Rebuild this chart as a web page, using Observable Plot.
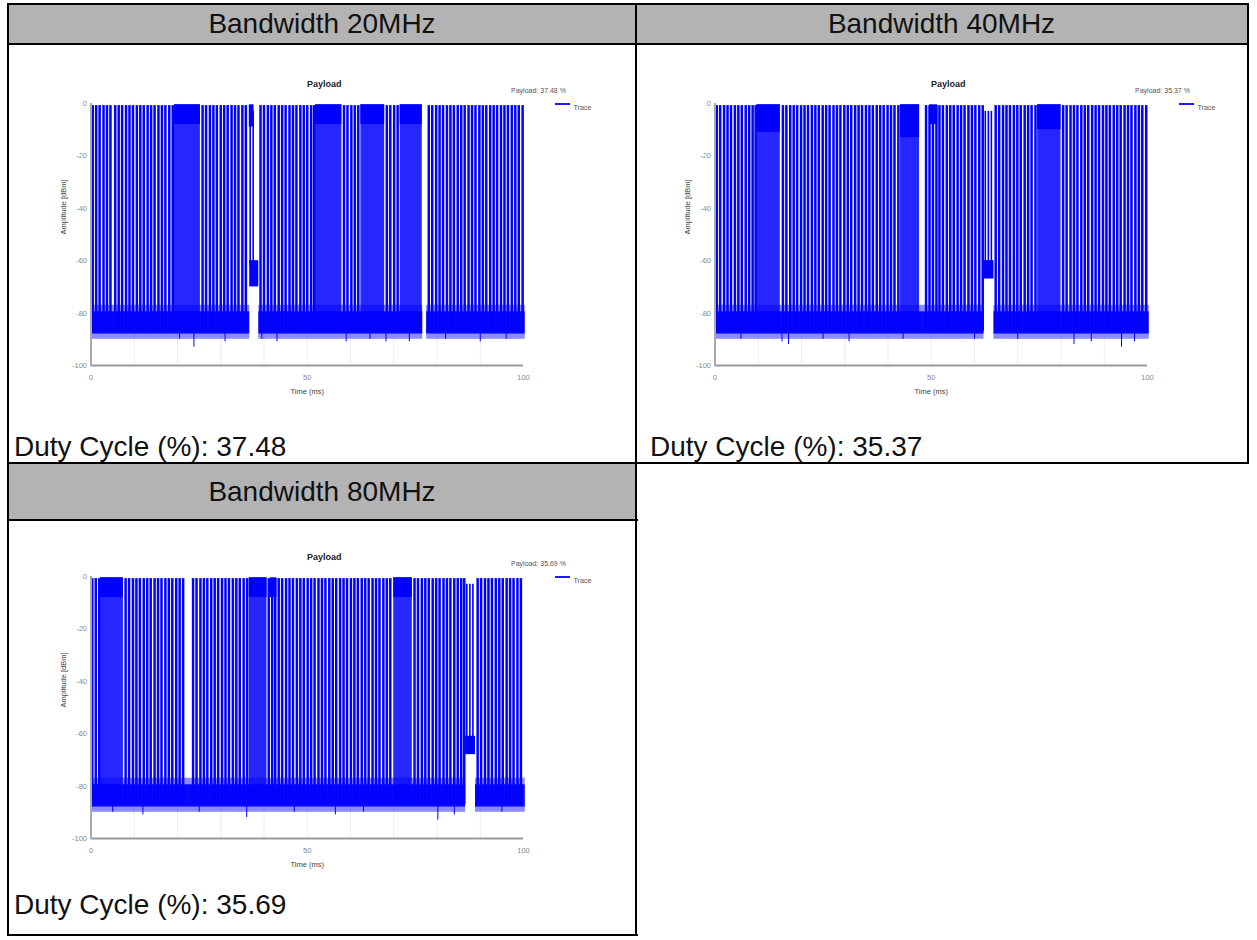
<!DOCTYPE html>
<html><head><meta charset="utf-8">
<script src="https://cdn.jsdelivr.net/npm/d3@7"></script>
<script src="https://cdn.jsdelivr.net/npm/@observablehq/plot@0.6"></script>
<style>
body{margin:0;background:#fff;font-family:"Liberation Sans",Arial,sans-serif;}
#page{position:relative;width:1257px;height:940px;overflow:hidden;background:#fff;}
.hdr{position:absolute;background:#b3b3b3;display:flex;align-items:center;justify-content:center;font-size:28px;color:#111;}
.hl{position:absolute;height:2px;background:#000;}
.vl{position:absolute;width:2px;background:#000;}
.duty{position:absolute;font-size:28px;line-height:28px;color:#111;white-space:nowrap;}
.chart{position:absolute;}
</style></head>
<body><div id="page"></div>
<script>
// ---------- data ----------
const titles = ["Bandwidth 20MHz", "Bandwidth 40MHz", "Bandwidth 80MHz"];
const dutyCycles = ["37.48", "35.37", "35.69"];
const yTicks = [0, -20, -40, -60, -80, -100];
const xTicks = [0, 50, 100];
const gridX = [10, 20, 30, 40, 50, 60, 70, 80, 90];

// Bandwidth 20MHz
const spikes20 = [0.4,1.2,2.0,2.9,3.7,4.5,5.6,6.4,7.2,8.1,8.9,9.7,10.6,11.4,12.2,13.1,13.9,14.7,15.6,16.4,17.2,18.1,18.9,
  25.8,26.6,27.5,28.3,29.1,30.0,30.8,31.6,32.5,33.3,34.1,35.0,35.8,
  39.2,40.0,40.9,41.7,42.5,43.4,44.2,45.0,45.9,46.7,47.5,48.4,49.2,50.0,50.9,51.6,
  58.5,59.3,60.2,61.0,61.8,
  68.4,69.2,70.1,70.9,
  78.1,78.9,79.8,80.6,81.4,82.3,83.1,83.9,84.8,85.6,86.4,87.3,88.1,88.9,89.8,90.6,91.4,92.3,93.1,93.9,94.8,95.6,96.4,97.3,98.1,98.9,99.8];
const blocks20 = [[19.3,25.3,-8],[51.9,58.0,-8],[62.4,67.9,-8],[71.5,76.6,-8]];
const caps20 = [[36.6,37.7,-9]];
const floor20 = [[0,36.7],[38.8,76.7],[77.6,100.4]];
const plateau20 = [[36.7,38.8,-70,-60]];
const plateauSpikes20 = [36.8, 37.5];
const dips20 = [[20.5,-90],[23.8,-93],[31.0,-91],[39.5,-90],[43.0,-91],[59.0,-91],[64.5,-90],[68.2,-91],[73.6,-91],[82.0,-90],[90.0,-91],[96.0,-90]];

// Bandwidth 40MHz
const spikes40 = [0.4,1.2,2.1,2.9,3.7,4.6,5.4,6.2,7.1,7.9,8.7,9.4,
  15.7,16.5,17.4,18.2,19.0,19.9,20.7,21.5,22.4,23.2,24.0,24.9,25.7,26.5,27.4,28.2,29.0,29.9,30.7,31.5,32.4,33.2,34.0,34.9,35.7,36.5,37.4,38.2,39.0,39.9,40.7,41.5,42.4,
  48.8,49.6,50.4,51.2,51.9,52.7,53.6,54.4,55.2,56.1,56.9,57.7,58.6,59.4,60.2,61.1,61.9,
  64.9,65.7,66.6,67.4,68.2,69.1,69.9,70.7,71.6,72.4,73.2,74.1,
  80.5,81.3,82.2,83.0,83.8,84.7,85.5,86.3,87.2,88.0,88.8,89.7,90.5,91.3,92.2,93.0,93.8,94.7,95.5,96.3,97.2,98.0,98.8,99.7];
const blocks40 = [[9.7,15.1,-11],[42.9,47.3,-13],[74.6,80.0,-10]];
const caps40 = [[49.6,51.5,-8]];
const floor40 = [[0,62.2],[64.5,100.4]];
const plateau40 = [[62.2,64.5,-67,-60]];
const plateauSpikes40 = [62.5, 63.2, 63.9];
const dips40 = [[6.0,-90],[15.5,-91],[17.0,-92],[25.0,-90],[31.0,-91],[43.5,-90],[60.0,-90],[70.0,-90],[83.0,-92],[87.0,-91],[94.0,-93],[97.0,-91]];

// Bandwidth 80MHz
const spikes80 = [0.3,1.1,1.9,
  8.0,8.8,9.7,10.5,11.3,12.2,13.0,13.8,14.7,15.5,16.3,17.2,18.0,18.8,19.7,20.5,21.3,
  23.6,24.4,25.3,26.1,26.9,27.8,28.6,29.4,30.3,31.1,31.9,32.8,33.6,34.4,35.3,36.1,
  41.1,41.9,42.6,43.4,44.2,45.1,45.9,46.7,47.6,48.4,49.2,50.1,50.9,51.7,52.6,53.4,54.2,55.1,55.9,56.7,57.6,58.4,59.2,60.1,60.9,61.7,62.6,63.4,64.2,65.1,65.9,66.7,67.6,68.4,69.2,
  74.8,75.6,76.5,77.3,78.1,79.0,79.8,80.6,81.5,82.3,83.1,84.0,84.8,85.6,86.3,
  89.4,90.2,91.1,91.9,92.7,93.6,94.4,95.2,96.1,96.9,97.7,98.6,99.4];
const blocks80 = [[2.2,7.5,-8],[36.6,40.7,-8],[70.0,74.3,-8]];
const caps80 = [[41.5,43.0,-8]];
const floor80 = [[0,86.6],[88.9,100.4]];
const plateau80 = [[86.6,88.9,-68,-61]];
const plateauSpikes80 = [86.9, 87.6, 88.3];
const dips80 = [[5.0,-90],[12.0,-91],[25.0,-90],[36.0,-92],[47.0,-90],[56.5,-91],[63.0,-90],[80.2,-93],[84.0,-91],[95.0,-90]];

const series = [
  {spikes: spikes20, blocks: blocks20, caps: caps20, floor: floor20, plateau: plateau20, pspikes: plateauSpikes20, dips: dips20},
  {spikes: spikes40, blocks: blocks40, caps: caps40, floor: floor40, plateau: plateau40, pspikes: plateauSpikes40, dips: dips40},
  {spikes: spikes80, blocks: blocks80, caps: caps80, floor: floor80, plateau: plateau80, pspikes: plateauSpikes80, dips: dips80}
];

// ---------- layout ----------
const page = document.getElementById("page");
function el(cls, style, text) {
  const d = document.createElement("div");
  d.className = cls;
  Object.assign(d.style, style);
  if (text) d.textContent = text;
  page.appendChild(d);
  return d;
}
el("hdr", {left:"8px", top:"4px", width:"628px", height:"40px"}, titles[0]);
el("hdr", {left:"636px", top:"4px", width:"611px", height:"40px"}, titles[1]);
el("hdr", {left:"8px", top:"463px", width:"628px", height:"57px"}, titles[2]);
el("hl", {left:"7px", top:"3px", width:"1242px"});
el("hl", {left:"7px", top:"43px", width:"1242px"});
el("hl", {left:"7px", top:"462px", width:"1242px"});
el("hl", {left:"7px", top:"519px", width:"631px"});
el("hl", {left:"7px", top:"934px", width:"631px"});
el("vl", {left:"7px", top:"3px", height:"933px"});
el("vl", {left:"635px", top:"3px", height:"933px"});
el("vl", {left:"1247px", top:"3px", height:"461px"});
el("duty", {left:"14px", top:"433px"}, "Duty Cycle (%): " + dutyCycles[0]);
el("duty", {left:"650px", top:"433px"}, "Duty Cycle (%): " + dutyCycles[1]);
el("duty", {left:"14px", top:"891px"}, "Duty Cycle (%): " + dutyCycles[2]);

const blue = "#0000ff";
function chart(s, duty) {
  const W = 580, H = 345, mL = 50.5, mR = 97, mT = 41, mB = 42;
  const svg = Plot.plot({
    width: W, height: H,
    marginLeft: mL, marginRight: mR, marginTop: mT, marginBottom: mB,
    style: {fontFamily: "Liberation Sans, Arial, sans-serif", fontSize: "7.5px", color: "#888", background: "#fff"},
    x: {domain: [0, 100], ticks: xTicks, tickSize: 0, tickPadding: 9, tickFormat: d => String(d), label: null},
    y: {domain: [-100, 0], ticks: yTicks, tickSize: 0, tickPadding: 4, tickFormat: d => String(d), label: null},
    marks: [
      Plot.ruleX(gridX, {stroke: "#e8e8e8", strokeWidth: 0.8}),
      // noise floor
      Plot.rect(s.floor, {x1: d => d[0], x2: d => d[1], y1: d => -90, y2: d => -77, fill: blue, fillOpacity: 0.45}),
      Plot.rect(s.floor, {x1: d => d[0], x2: d => d[1], y1: d => -88, y2: d => -79.5, fill: blue, fillOpacity: 0.95}),
      Plot.ruleX(s.dips, {x: d => d[0], y1: d => -87, y2: d => d[1], stroke: blue, strokeWidth: 1}),
      // dense bursts
      Plot.rect(s.blocks, {x1: d => d[0], x2: d => d[1], y1: d => -87, y2: d => -0.5, fill: blue, fillOpacity: 0.85}),
      Plot.rect(s.blocks, {x1: d => d[0], x2: d => d[1], y1: d => d[2], y2: d => -0.5, fill: blue}),
      Plot.rect(s.caps, {x1: d => d[0], x2: d => d[1], y1: d => d[2], y2: d => -0.5, fill: blue}),
      // spikes
      Plot.ruleX(s.spikes, {y1: d => -87, y2: d => -0.8, stroke: blue, strokeWidth: 2.5}),
      // plateau
      Plot.rect(s.plateau, {x1: d => d[0], x2: d => d[1], y1: d => d[2], y2: d => d[3], fill: blue}),
      Plot.ruleX(s.pspikes, {y1: d => -62, y2: d => -3, stroke: blue, strokeWidth: 1.6}),
      // axis lines
      Plot.ruleY([-100], {stroke: "#999", strokeWidth: 2}),
      Plot.ruleX([0], {y1: d => -100, y2: d => 0, stroke: "#aaa", strokeWidth: 2}),
      // texts
      Plot.text(["Payload"], {frameAnchor: "top", dx: 17, dy: -23, fontWeight: "bold", fontSize: 9, fill: "#222"}),
      Plot.text(["Payload: " + duty + " %"], {frameAnchor: "top-right", dx: 15, dy: -15, textAnchor: "middle", fontSize: 7, fill: "#555"}),
      Plot.text(["Trace"], {frameAnchor: "top-right", dx: 50, dy: 1, textAnchor: "start", fontSize: 7.2, fill: "#555"}),
      Plot.text(["Amplitude [dBm]"], {frameAnchor: "left", dx: -27.5, rotate: -90, fontSize: 7.5, fill: "#444"}),
      Plot.text(["Time (ms)"], {frameAnchor: "bottom", dy: 28, fontSize: 7.5, fill: "#444"})
    ]
  });
  const x0 = W - mR;
  d3.select(svg).append("line")
    .attr("x1", x0 + 32).attr("x2", x0 + 47)
    .attr("y1", mT + 1).attr("y2", mT + 1)
    .attr("stroke", blue).attr("stroke-width", 1.8);
  return svg;
}

const pos = [[40, 62], [663.5, 62], [40, 535]];
series.forEach((s, i) => {
  const svg = chart(s, dutyCycles[i]);
  const wrap = el("chart", {left: pos[i][0] + "px", top: pos[i][1] + "px"});
  wrap.appendChild(svg);
});
</script>
</body></html>
